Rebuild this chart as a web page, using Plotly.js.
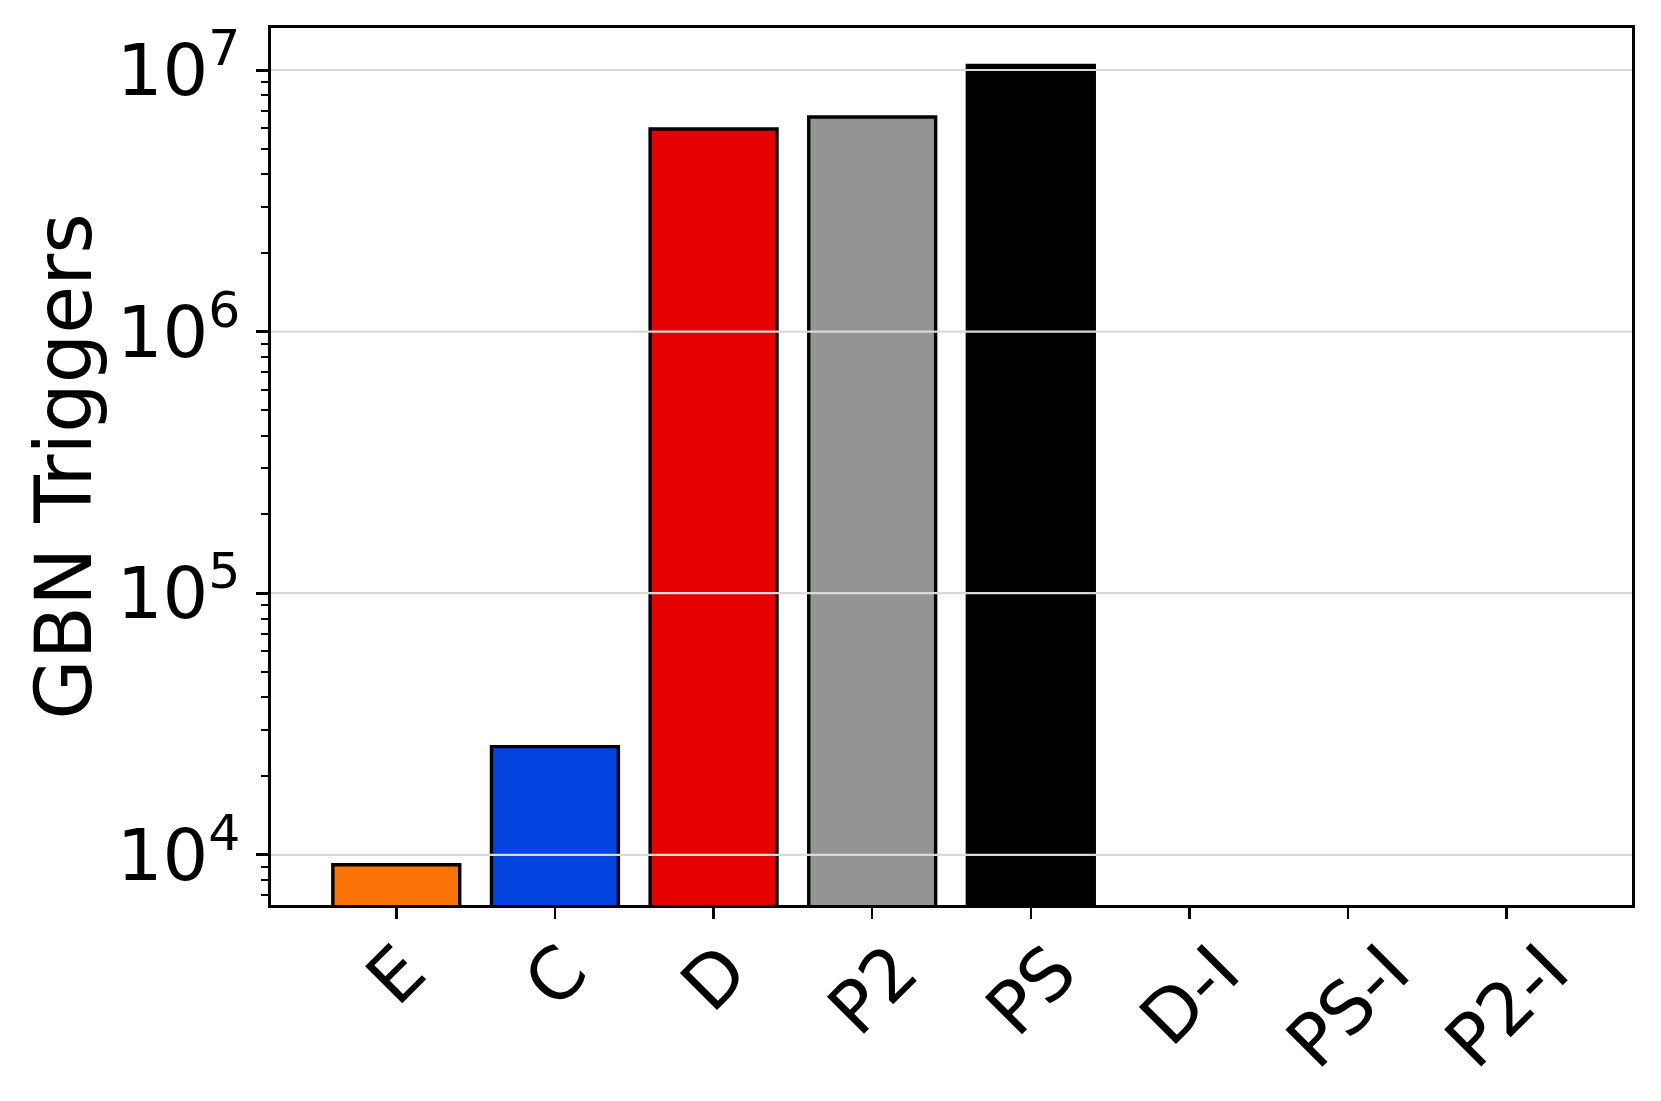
<!DOCTYPE html>
<html>
<head>
<meta charset="utf-8">
<script src="https://cdn.plot.ly/plotly-3.0.1.min.js"></script>
<style>
  html, body { margin: 0; padding: 0; background: #ffffff; }
  #chart { width: 1661px; height: 1101px; }
</style>
</head>
<body>
<div id="chart"></div>
<script>
// ---- data ----
const categories = ['E', 'C', 'D', 'P2', 'PS', 'D-I', 'PS-I', 'P2-I'];
const triggers = [9160, 25900, 5950000, 6610000, 10400000, null, null, null];
const barColors = ['#f97306', '#0343df', '#e50000', '#929591', '#000000', '#ffffff', '#ffffff', '#ffffff'];
const yTickVals = [1e4, 1e5, 1e6, 1e7];
const yTickText = ['10<sup>4</sup>', '10<sup>5</sup>', '10<sup>6</sup>', '10<sup>7</sup>'];
const yTitle = 'GBN Triggers';

// ---- styling ----
const FONT = 'DejaVu Sans, Liberation Sans, sans-serif';

const trace = {
  type: 'bar',
  x: categories,
  y: triggers,
  width: 0.8,
  marker: {
    color: barColors,
    line: { color: '#000000', width: 3.4 }
  },
  hoverinfo: 'x+y'
};

// x tick labels as rotated, centered annotations (matplotlib style)
const xLabelAnnotations = categories.map(c => ({
  x: c, xref: 'x',
  y: 0, yref: 'paper',
  yanchor: 'top', xanchor: 'center',
  yshift: -22,
  textangle: -45,
  text: c,
  showarrow: false,
  borderpad: 0,
  font: { family: FONT, size: 72, color: '#000000' }
}));

// gridlines drawn above bars (at the major tick values)
const gridShapes = yTickVals.map(v => ({
  type: 'line', xref: 'paper', x0: 0, x1: 1,
  yref: 'y', y0: v, y1: v,
  line: { color: '#d9d9d9', width: 2.2 },
  layer: 'above'
}));

const layout = {
  width: 1661,
  height: 1101,
  margin: { l: 271, r: 29, t: 28, b: 196, pad: 0 },
  paper_bgcolor: '#ffffff',
  plot_bgcolor: '#ffffff',
  showlegend: false,
  font: { family: FONT, color: '#000000' },
  bargap: 0.2,
  xaxis: {
    type: 'category',
    range: [-0.79, 7.79],
    showticklabels: false,
    ticks: 'outside',
    ticklen: 11,
    tickwidth: 2.5,
    tickcolor: '#000000',
    showgrid: false,
    zeroline: false,
    showline: true,
    linecolor: '#000000',
    linewidth: 3.2,
    mirror: true
  },
  yaxis: {
    type: 'log',
    range: [3.808, 7.1606],
    tickmode: 'array',
    tickvals: yTickVals,
    ticktext: yTickText,
    tickfont: { family: FONT, size: 72, color: '#000000' },
    ticks: 'outside',
    ticklen: 12,
    tickwidth: 3,
    tickcolor: '#000000',
    ticklabelstandoff: 1,
    minor: {
      ticks: 'outside',
      ticklen: 7,
      tickwidth: 2,
      tickcolor: '#000000',
      dtick: 'D1',
      showgrid: false
    },
    showgrid: false,
    zeroline: false,
    showline: true,
    linecolor: '#000000',
    linewidth: 3.2,
    mirror: true,
    automargin: false,
    title: {
      text: yTitle,
      font: { family: FONT, size: 78, color: '#000000' },
      standoff: 0
    }
  },
  annotations: xLabelAnnotations,
  shapes: gridShapes
};

Plotly.newPlot('chart', [trace], layout, { displayModeBar: false, staticPlot: true });
</script>
</body>
</html>
